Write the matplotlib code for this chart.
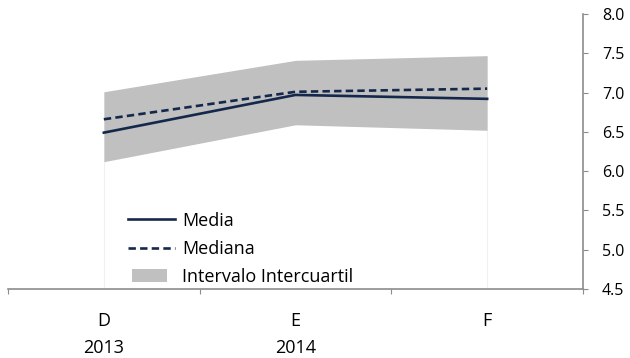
import matplotlib

matplotlib.use("Agg")
import matplotlib.pyplot as plt
from matplotlib.patches import Patch, Rectangle
from matplotlib.lines import Line2D
from matplotlib.legend_handler import HandlerPatch

# Expectativas de inflación: media, mediana y rango intercuartil
months = ["D", "E", "F"]
years = ["2013", "2014", ""]
media = [6.49, 6.97, 6.92]
mediana = [6.66, 7.01, 7.05]
q1 = [6.12, 6.59, 6.52]
q3 = [7.01, 7.41, 7.47]

y_ticks = [4.5, 5.0, 5.5, 6.0, 6.5, 7.0, 7.5, 8.0]

navy = "#14284b"
band = "#c0c0c0"
axis_gray = "#8c8c8c"
dash = (0, (2.8, 1.6))

plt.rcParams["font.family"] = ["Open Sans", "DejaVu Sans"]


def short_box(legend, orig_handle, xdescent, ydescent, width, height, fontsize):
    # narrower swatch than the line handles
    return Rectangle((-xdescent + 0.08 * width, -ydescent), 0.75 * width, height)


fig = plt.figure(figsize=(6.3, 3.58), dpi=100)
ax = fig.add_axes([8 / 630, 1 - 289 / 358, 575 / 630, 275 / 358])

x = list(range(len(months)))
ax.fill_between(x, q1, q3, color=band, linewidth=0, zorder=1)
# thin edges left by the stacked-area version of this chart
ax.vlines([x[0], x[-1]], 4.5, [q1[0], q1[-1]], color="#f0f0f0", linewidth=0.8, zorder=0)
ax.plot(x, media, color=navy, linewidth=1.9, zorder=3)
ax.plot(x, mediana, color=navy, linewidth=1.9, linestyle=dash, zorder=3)

ax.set_xlim(-0.5, 2.5)
ax.set_ylim(4.5, 8.0)

# category boundaries get the tick marks, month/year text sits at the centres
ax.set_xticks([-0.5, 0.5, 1.5, 2.5])
ax.set_xticklabels([])
ax.tick_params(axis="x", direction="out", length=3.6, color=axis_gray)
xform = ax.get_xaxis_transform()
for xi, m, yr in zip(x, months, years):
    ax.text(xi, -0.134, m, transform=xform, ha="center", va="baseline", fontsize=13)
    ax.text(xi, -0.233, yr, transform=xform, ha="center", va="baseline", fontsize=13)

ax.yaxis.tick_right()
ax.set_yticks(y_ticks)
ax.set_yticklabels([f"{v:.1f}" for v in y_ticks], fontsize=11.5)
ax.tick_params(axis="y", direction="out", length=3.6, color=axis_gray, pad=10)

for side in ("left", "top"):
    ax.spines[side].set_visible(False)
for side in ("right", "bottom"):
    ax.spines[side].set_color(axis_gray)
    ax.spines[side].set_linewidth(1.2)

box = Patch(facecolor=band, edgecolor="none")
handles = [
    Line2D([], [], color=navy, linewidth=1.9),
    Line2D([], [], color=navy, linewidth=1.9, linestyle=dash),
    box,
]
ax.legend(handles, ["Media", "Mediana", "Intervalo Intercuartil"],
          loc="lower left", bbox_to_anchor=(128 / 630, 1 - 286 / 358),
          bbox_transform=fig.transFigure, frameon=False, fontsize=13,
          handlelength=2.6, handletextpad=0.4, labelspacing=0.56,
          borderpad=0, borderaxespad=0,
          handler_map={box: HandlerPatch(patch_func=short_box)})

fig.savefig("out.png", dpi=100)
